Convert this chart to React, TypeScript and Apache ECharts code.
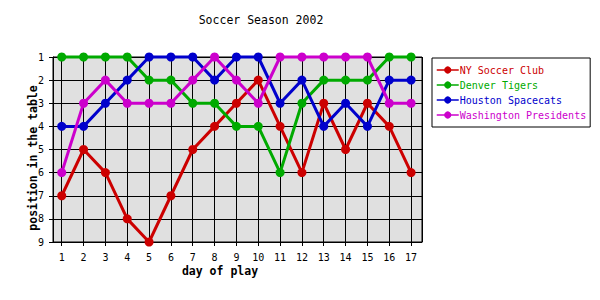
import React, { useEffect, useRef } from "react";
import * as echarts from "echarts";

const days = [1, 2, 3, 4, 5, 6, 7, 8, 9, 10, 11, 12, 13, 14, 15, 16, 17];
const teamNames = ["NY Soccer Club", "Denver Tigers", "Houston Spacecats", "Washington Presidents"];
const nySoccerClub = [7, 5, 6, 8, 9, 7, 5, 4, 3, 2, 4, 6, 3, 5, 3, 4, 6];
const denverTigers = [1, 1, 1, 1, 2, 2, 3, 3, 4, 4, 6, 3, 2, 2, 2, 1, 1];
const houstonSpacecats = [4, 4, 3, 2, 1, 1, 1, 2, 1, 1, 3, 2, 4, 3, 4, 2, 2];
const washingtonPresidents = [6, 3, 2, 3, 3, 3, 2, 1, 2, 3, 1, 1, 1, 1, 1, 3, 3];
const teamColors = ["#cc0000", "#00aa00", "#0000cc", "#cc00cc"];
const positions = [1, 2, 3, 4, 5, 6, 7, 8, 9];

const FONT = "'DejaVu Sans Mono', 'Liberation Mono', monospace";

export default function App() {
  const ref = useRef<HTMLDivElement>(null);
  useEffect(() => {
    if (!ref.current) return;
    const chart = echarts.init(ref.current, undefined, { renderer: "svg" });
    const allSeries = [nySoccerClub, denverTigers, houstonSpacecats, washingtonPresidents];
    chart.setOption({
      animation: false,
      backgroundColor: "#ffffff",
      textStyle: { fontFamily: FONT },
      graphic: [
        {
          type: "text",
          x: 261,
          y: 20,
          style: {
            text: "Soccer Season 2002",
            fontFamily: FONT,
            fontSize: 11.5,
            fill: "#000",
            textAlign: "center",
            textVerticalAlign: "middle",
          },
        },
        {
          type: "text",
          x: 220,
          y: 271,
          style: {
            text: "day of play",
            fontFamily: FONT,
            fontSize: 11.5,
            fontWeight: "bold",
            fill: "#000",
            textAlign: "center",
            textVerticalAlign: "middle",
          },
        },
        {
          type: "text",
          x: 33,
          y: 158,
          rotation: Math.PI / 2,
          style: {
            text: "position in the table",
            fontFamily: FONT,
            fontSize: 11.5,
            fontWeight: "bold",
            fill: "#000",
            textAlign: "center",
            textVerticalAlign: "middle",
          },
        },
      ],
      legend: {
        orient: "vertical",
        left: 432,
        top: 58,
        padding: [6, 4, 6, 4],
        itemGap: 3,
        itemWidth: 22,
        itemHeight: 9,
        backgroundColor: "#ffffff",
        borderColor: "#000000",
        borderWidth: 1,
        borderRadius: 0,
        lineStyle: { width: 1.5 },
        data: teamNames.map((n, i) => ({
          name: n,
          textStyle: { color: teamColors[i] },
        })),
        textStyle: { fontFamily: FONT, fontSize: 10, lineHeight: 12, padding: [0, 0, 0, -4] },
      },
      grid: {
        left: 53,
        top: 57,
        right: 178,
        bottom: 58,
        show: true,
        backgroundColor: "#e0e0e0",
        borderColor: "#000000",
        borderWidth: 1,
      },
      xAxis: {
        type: "value",
        min: 0.6,
        max: 17.5,
        minInterval: 1,
        maxInterval: 1,
        axisLine: { show: true, lineStyle: { color: "#000", width: 1 } },
        axisTick: { show: true, length: 4, lineStyle: { color: "#000" } },
        axisLabel: {
          color: "#000",
          fontFamily: FONT,
          fontSize: 10,
          margin: 10,
          showMinLabel: false,
          showMaxLabel: false,
          formatter: (v: number) => (Number.isInteger(v) && days.includes(v) ? String(v) : ""),
        },
        splitLine: { show: true, lineStyle: { color: "#000", width: 1 } },
      },
      yAxis: {
        type: "value",
        inverse: true,
        min: 1,
        max: 9,
        interval: 1,
        axisLine: { show: true, lineStyle: { color: "#000", width: 1 } },
        axisTick: { show: true, length: 4, lineStyle: { color: "#000" } },
        axisLabel: {
          color: "#000",
          fontFamily: FONT,
          fontSize: 10,
          margin: 9,
          formatter: (v: number) => (positions.includes(v) ? String(v) : ""),
        },
        splitLine: { show: true, lineStyle: { color: "#000", width: 1 } },
      },
      series: teamNames.map((name, i) => ({
        name,
        type: "line",
        data: days.map((d, j) => [d, allSeries[i][j]]),
        color: teamColors[i],
        symbol: "circle",
        symbolSize: 9,
        clip: false,
        lineStyle: { width: 3, color: teamColors[i] },
        itemStyle: { color: teamColors[i] },
      })),
    });
    return () => chart.dispose();
  }, []);
  return (
    <div
      ref={ref}
      style={{ position: "absolute", left: 0, top: 0, width: 600, height: 300 }}
    />
  );
}
